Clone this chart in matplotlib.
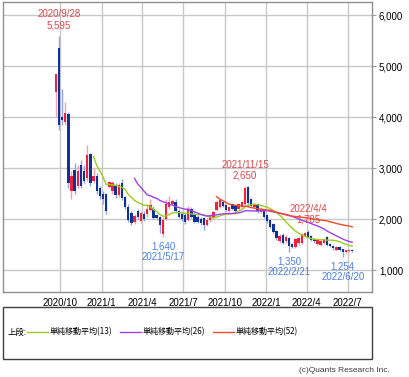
import numpy as np
import pandas as pd
import matplotlib
matplotlib.use("Agg")
import matplotlib.pyplot as plt
import matplotlib.dates as mdates
from matplotlib.patches import Rectangle
from matplotlib.lines import Line2D

# weekly candles, first week 2020/9/21
start_week = "2020-09-21"
opens = [4490, 5353, 4000, 3900, 4050, 2550, 2960, 2650, 3050, 2950,
         2800, 3280, 2750, 2850, 2600, 2500, 2500, 2630, 2550, 2650,
         2470, 2700, 2430, 2240, 2110, 1940, 2160, 1960, 2100, 2100,
         2170, 2200, 2070, 2040, 1700, 2000, 2230, 2300, 2330, 2150,
         2100, 2080, 1980, 2200, 2100, 2050, 2000, 2020, 1880, 1980,
         2020, 2180, 2240, 2330, 2280, 2150, 2300, 2250, 2200, 2240,
         2300, 2620, 2400, 2230, 2290, 2140, 2180, 2080, 1990, 1900,
         1760, 1560, 1680, 1560, 1620, 1510, 1460, 1530, 1530, 1660,
         1740, 1660, 1610, 1520, 1500, 1540, 1640, 1520, 1480, 1400,
         1450, 1410, 1360, 1380, 1390]
highs = [4850, 5595, 4550, 4300, 4100, 2950, 3100, 3050, 3150, 3050,
         3450, 3300, 3000, 2900, 2650, 2550, 2520, 2750, 2750, 2700,
         2700, 2780, 2450, 2300, 2150, 2100, 2200, 2150, 2150, 2300,
         2400, 2250, 2100, 2060, 2050, 2400, 2450, 2400, 2400, 2200,
         2150, 2120, 2250, 2230, 2130, 2080, 2040, 2050, 2020, 2100,
         2150, 2380, 2400, 2360, 2300, 2260, 2320, 2280, 2320, 2360,
         2650, 2640, 2420, 2310, 2320, 2230, 2200, 2100, 2000, 1920,
         1780, 1700, 1720, 1680, 1650, 1540, 1620, 1640, 1730, 1750,
         1785, 1690, 1630, 1600, 1590, 1620, 1660, 1540, 1500, 1470,
         1470, 1420, 1420, 1420, 1410]
lows = [4000, 3745, 3850, 3850, 2600, 2390, 2500, 2600, 2600, 2700,
        2750, 2650, 2700, 2500, 2400, 2300, 2100, 2600, 2500, 2420,
        2440, 2380, 2200, 1950, 1880, 1900, 2000, 1930, 1960, 2050,
        2150, 2000, 1980, 1720, 1640, 1980, 2200, 2270, 2120, 2020,
        1970, 1900, 1960, 2020, 1920, 1920, 1890, 1780, 1860, 1950,
        2000, 2160, 2220, 2230, 2160, 2130, 2180, 2130, 2180, 2220,
        2250, 2280, 2240, 2200, 2120, 2120, 2020, 1930, 1820, 1720,
        1580, 1540, 1510, 1540, 1350, 1430, 1440, 1500, 1510, 1640,
        1630, 1570, 1540, 1490, 1470, 1510, 1480, 1450, 1400, 1380,
        1380, 1254, 1330, 1360, 1350]
closes = [4843, 3843, 3950, 4080, 2700, 2850, 2550, 2950, 2650, 2750,
          3250, 2700, 2850, 2550, 2450, 2400, 2150, 2720, 2700, 2480,
          2660, 2420, 2240, 1990, 1920, 2060, 2040, 2110, 2000, 2200,
          2270, 2030, 2020, 1880, 1980, 2300, 2330, 2350, 2150, 2050,
          2000, 1950, 2200, 2050, 1950, 1950, 1920, 1880, 1980, 2080,
          2130, 2330, 2370, 2250, 2180, 2230, 2200, 2150, 2300, 2330,
          2600, 2320, 2260, 2290, 2150, 2200, 2040, 1960, 1850, 1750,
          1620, 1660, 1540, 1650, 1480, 1460, 1600, 1620, 1700, 1720,
          1650, 1590, 1560, 1580, 1570, 1600, 1500, 1470, 1440, 1450,
          1400, 1350, 1400, 1400, 1370]

ma_periods = [13, 26, 52]
ma_colors = ["#9ccc1c", "#a040f0", "#f04a2a"]

peak_labels = [("2020-09-28", "2020/9/28\n5,595", "#e0474c", 5595, "top"),
               ("2021-11-15", "2021/11/15\n2,650", "#e0474c", 2650, "top"),
               ("2022-04-04", "2022/4/4\n1,785", "#e0474c", 1785, "top"),
               ("2021-05-17", "1,640\n2021/5/17", "#4a7ee8", 1640, "bottom"),
               ("2022-02-21", "1,350\n2022/2/21", "#4a7ee8", 1350, "bottom"),
               ("2022-06-20", "1,254\n2022/6/20", "#4a7ee8", 1254, "bottom")]

tick_dates = ["2020-10-01", "2021-01-01", "2021-04-01", "2021-07-01",
              "2021-10-01", "2022-01-01", "2022-04-01", "2022-07-01"]
tick_labels = ["2020/10", "2021/1", "2021/4", "2021/7",
               "2021/10", "2022/1", "2022/4", "2022/7"]

narrow = ["Liberation Sans", "DejaVu Sans"]
jp = ["Noto Sans CJK JP", "DejaVu Sans"]

df = pd.DataFrame({"open": opens, "high": highs, "low": lows, "close": closes},
                  index=pd.date_range(start_week, periods=len(closes), freq="W-MON"))
x = mdates.date2num(df.index)

fig = plt.figure(figsize=(4.10, 3.77), dpi=100)
W, H = 410, 377
ax = fig.add_axes([3 / W, 1 - 292 / H, 369 / W, 290 / H])

up = df["close"] >= df["open"]
body_w = 5.2
for is_up, body_c, wick_c in [(True, "#f2203a", "#f7a0aa"), (False, "#10309a", "#8fa6e0")]:
    d = df[up == is_up]
    xd = mdates.date2num(d.index)
    ax.vlines(xd, d["low"], d["high"], color=wick_c, lw=1.0, zorder=3)
    lo = np.minimum(d["open"], d["close"])
    hi = np.maximum(d["open"], d["close"])
    ax.bar(xd, hi - lo, bottom=lo, width=body_w, color=body_c, lw=0, zorder=4)

for p, c in zip(ma_periods, ma_colors):
    ma = df["close"].rolling(p).mean()
    ax.plot(x, ma.values, color=c, lw=1.0, zorder=5)

for d, txt, c, v, side in peak_labels:
    xv = mdates.date2num(pd.Timestamp(d))
    if side == "top":
        ax.annotate(txt, (xv, v), xytext=(0, 4), textcoords="offset points",
                    ha="center", va="bottom", color=c, fontsize=7,
                    family=narrow, linespacing=1.1, zorder=6)
    else:
        ax.annotate(txt, (xv, v), xytext=(0, -3), textcoords="offset points",
                    ha="center", va="top", color=c, fontsize=7,
                    family=narrow, linespacing=1.1, zorder=6)

ax.set_xlim(mdates.date2num(pd.Timestamp("2020-05-27")),
            mdates.date2num(pd.Timestamp("2022-08-24")))
ax.set_ylim(570, 6255)
ax.set_xticks(mdates.date2num(pd.to_datetime(tick_dates)))
ax.set_xticklabels(tick_labels, family=narrow, fontsize=7)
ax.set_yticks([1000, 2000, 3000, 4000, 5000, 6000])
ax.set_yticklabels(["1,000", "2,000", "3,000", "4,000", "5,000", "6,000"],
                   family=narrow, fontsize=7)
ax.yaxis.tick_right()
ax.tick_params(axis="y", length=3, color="#a0a0a0", pad=2)
ax.tick_params(axis="x", length=0, pad=4)
ax.grid(True, color="#c8c8c8", lw=1.0, zorder=0)
ax.set_axisbelow(True)
for s in ax.spines.values():
    s.set_color("#909090")
    s.set_linewidth(1.0)

# legend box
box = Rectangle((3 / W, 1 - 359 / H), 369 / W, 52 / H, transform=fig.transFigure,
                fill=False, ec="#404040", lw=1.0)
fig.patches.append(box)
ly = 1 - 332 / H
fig.text(8 / W, ly, "上段:", family=jp, fontsize=6, va="center")
for x0, c, p in [(27, ma_colors[0], 13), (120, ma_colors[1], 26), (213, ma_colors[2], 52)]:
    fig.lines.append(Line2D([x0 / W, (x0 + 21) / W], [ly, ly], color=c, lw=1.0,
                            transform=fig.transFigure))
    fig.text((x0 + 23) / W, ly, "単純移動平均(%d)" % p, family=jp, fontsize=5.8,
             va="center")

fig.text(390 / W, 1 - 371 / H, "(c)Quants Research Inc.", family=narrow,
         fontsize=6, ha="right", va="center", color="#404040")

fig.savefig("out.png", dpi=100)
